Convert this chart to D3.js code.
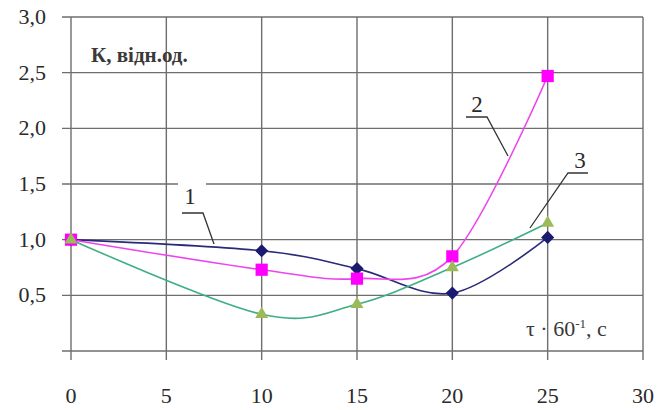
<!DOCTYPE html>
<html>
<head>
<meta charset="utf-8">
<script src="https://cdn.jsdelivr.net/npm/d3@7"></script>
</head>
<body style="margin:0">
<svg id="chart" width="659" height="410" font-family="Liberation Serif" style="font-family: 'Liberation Serif'"></svg>
<script>
const xValues = [0, 10, 15, 20, 25];
const series1 = [1.0, 0.9, 0.74, 0.52, 1.02];
const series2 = [1.0, 0.73, 0.65, 0.85, 2.47];
const series3 = [1.0, 0.33, 0.42, 0.75, 1.15];
const xTicks = [0, 5, 10, 15, 20, 25, 30];
const yTicks = [0, 0.5, 1.0, 1.5, 2.0, 2.5, 3.0];

const serif = "Liberation Serif";
const svg = d3.select("#chart");

const x = d3.scaleLinear().domain([0, 30]).range([71, 643]);
const y = d3.scaleLinear().domain([0, 3]).range([351, 17]);

// grid
const grid = svg.append("g").attr("stroke", "#6e6e6e").attr("stroke-width", 1.4);
grid.selectAll("line.h")
  .data(yTicks)
  .enter().append("line")
  .attr("class", "h")
  .attr("x1", 62).attr("x2", x(30))
  .attr("y1", d => y(d)).attr("y2", d => y(d));
grid.selectAll("line.v")
  .data(xTicks)
  .enter().append("line")
  .attr("class", "v")
  .attr("x1", d => x(d)).attr("x2", d => x(d))
  .attr("y1", y(3)).attr("y2", 360);

// blank gap behind label "1"
svg.append("rect").attr("x", 178).attr("y", 178).attr("width", 28).attr("height", 12).attr("fill", "#fff");

// tick labels
svg.selectAll("text.ylab")
  .data(yTicks.slice(1))
  .enter().append("text")
  .attr("class", "ylab")
  .attr("x", 46)
  .attr("y", d => y(d) + 7)
  .attr("text-anchor", "end")
  .style("font-family", serif)
  .style("font-size", "22px")
  .attr("fill", "#2a2a2a")
  .text(d => d3.format(".1f")(d).replace(".", ","));

svg.selectAll("text.xlab")
  .data(xTicks)
  .enter().append("text")
  .attr("class", "xlab")
  .attr("x", d => x(d))
  .attr("y", 403)
  .attr("text-anchor", "middle")
  .style("font-family", serif)
  .style("font-size", "22px")
  .attr("fill", "#2a2a2a")
  .text(d => d);

// lines
const line = d3.line()
  .x((d, i) => x(xValues[i]))
  .y(d => y(d))
  .curve(d3.curveCardinal.tension(0));

const seriesDefs = [
  { data: series1, line: "#2a2a7a", fill: "#1a1a70", shape: d3.symbolDiamond2, size: 110 },
  { data: series2, line: "#ee44ee", fill: "#ff00ff", shape: d3.symbolSquare2, size: 190 },
  { data: series3, line: "#3fae84", fill: "#9bbb59", shape: d3.symbolTriangle2, size: 120 }
];

seriesDefs.forEach(s => {
  svg.append("path")
    .attr("d", line(s.data))
    .attr("fill", "none")
    .attr("stroke", s.line)
    .attr("stroke-width", 1.6);
});

seriesDefs.forEach(s => {
  svg.selectAll(null)
    .data(s.data)
    .enter().append("path")
    .attr("transform", (d, i) => `translate(${x(xValues[i])},${y(d)})`)
    .attr("d", d3.symbol().type(s.shape).size(s.size))
    .attr("fill", s.fill);
});

// annotations
svg.append("text")
  .attr("x", 91).attr("y", 62)
  .style("font-family", serif)
  .style("font-size", "21px")
  .style("font-weight", "bold")
  .attr("fill", "#3a3a3a")
  .text("К, відн.од.");

const axisTitle = svg.append("text")
  .attr("x", 526).attr("y", 336)
  .style("font-family", serif)
  .style("font-size", "22px")
  .attr("fill", "#3a3a3a");
axisTitle.append("tspan").text("τ · 60");
axisTitle.append("tspan").attr("dy", -8).style("font-size", "13px").text("-1");
axisTitle.append("tspan").attr("dy", 8).text(", с");

const leaders = [
  { label: "1", lx: 190, ly: 204, pts: [[182, 213], [203, 213], [214, 244]] },
  { label: "2", lx: 477, ly: 112, pts: [[466, 117], [487, 117], [508, 156]] },
  { label: "3", lx: 580, ly: 168, pts: [[588, 173], [568, 173], [530, 228]] }
];
leaders.forEach(l => {
  svg.append("text")
    .attr("x", l.lx).attr("y", l.ly)
    .attr("text-anchor", "middle")
    .style("font-family", serif)
    .style("font-size", "23px")
    .attr("fill", "#2a2a2a")
    .text(l.label);
  svg.append("path")
    .attr("d", d3.line()(l.pts))
    .attr("fill", "none")
    .attr("stroke", "#333")
    .attr("stroke-width", 1.3);
});
</script>
</body>
</html>
